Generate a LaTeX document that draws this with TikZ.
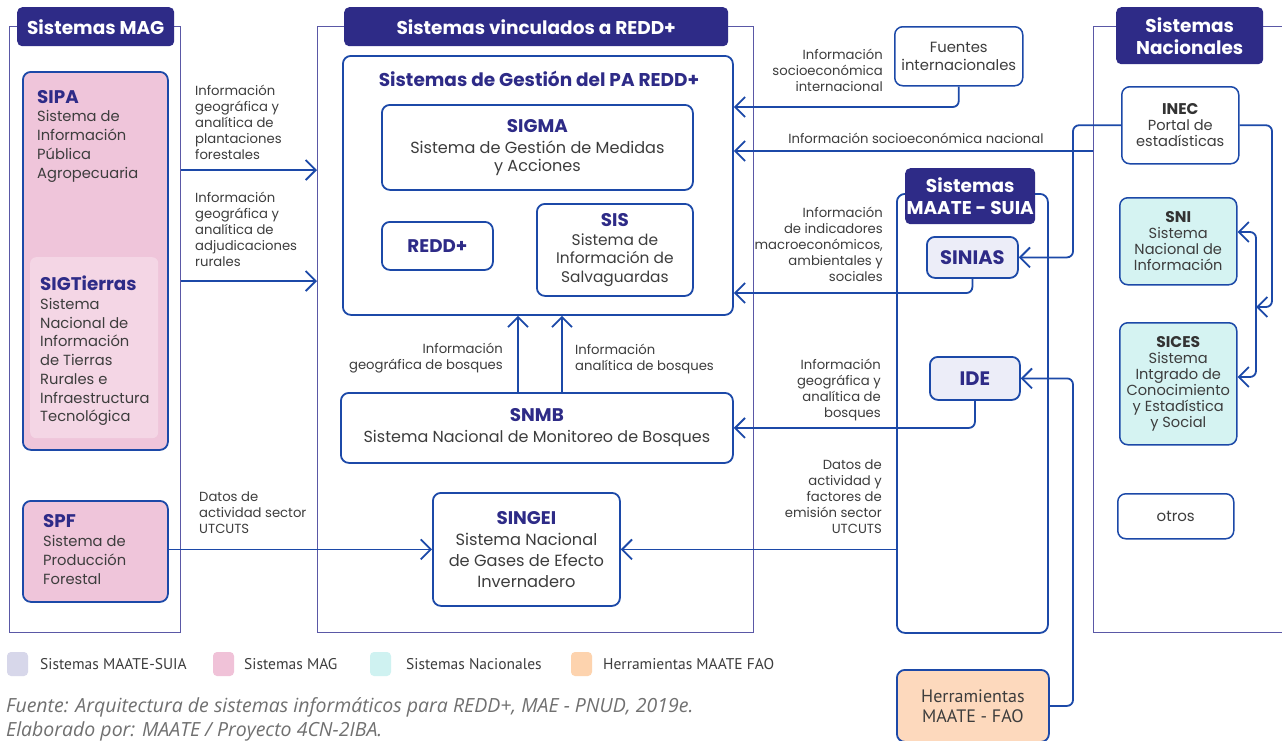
\documentclass[tikz,border=0pt]{standalone}
\usepackage{fontspec}
\setmainfont{Poppins}
\newfontfamily\legfont{PT Sans}
\newfontfamily\footfont{Open Sans}
\usetikzlibrary{arrows.meta,calc}
\definecolor{navy}{HTML}{2E2B87}
\definecolor{bluec}{HTML}{1C49A8}
\definecolor{contc}{HTML}{5A58A6}
\definecolor{txt}{HTML}{3D3D3D}
\definecolor{txtd}{HTML}{333333}
\definecolor{pinkA}{HTML}{EFC5DA}
\definecolor{pinkB}{HTML}{F4D6E5}
\definecolor{cyanA}{HTML}{D5F3F2}
\definecolor{lav}{HTML}{ECEDF8}
\definecolor{peach}{HTML}{FDD9BD}
\definecolor{lgA}{HTML}{D7D7EA}
\definecolor{lgB}{HTML}{F0C2D8}
\definecolor{lgC}{HTML}{CFF2F1}
\definecolor{lgD}{HTML}{FDD3AE}
\definecolor{foot}{HTML}{707070}
\newcommand\hdrf{\fontsize{18.5}{22}\selectfont\bfseries}
\newcommand\ttlf{\fontsize{18.3}{19}\selectfont\bfseries\color{navy}}
\newcommand\natt{\fontsize{15.5}{16}\selectfont\bfseries\color{txtd}}
\newcommand\lblf{\fontsize{13.2}{16}\selectfont}
\begin{document}
\begin{tikzpicture}[x=1pt,y=-1pt,
  cont/.style={draw=contc, line width=1.3pt, inner sep=0pt},
  hdr/.style={fill=navy, rounded corners=5pt, text=white, font=\hdrf, align=center, inner sep=0pt},
  box/.style={draw=bluec, line width=1.8pt, rounded corners=8pt, fill=white, align=center, inner sep=0pt, text=txt, font=\fontsize{16}{19}\selectfont},
  natbox/.style={box, line width=1.5pt, font=\fontsize{14.6}{16}\selectfont},
  mtxt/.style={anchor=north west, align=left, inner sep=0pt, text=txt, font=\fontsize{14.7}{18.7}\selectfont},
  conn/.style={draw=bluec, line width=1.8pt, rounded corners=6pt},
  arr/.style={-{Straight Barb[length=10pt,width=20pt]}},
  darr/.style={{Straight Barb[length=10pt,width=20pt]}-{Straight Barb[length=10pt,width=20pt]}},
  lbl/.style={font=\lblf, text=txt, inner sep=0pt},
  sw/.style={rounded corners=4pt, minimum width=21pt, minimum height=24pt, inner sep=0pt},
  legt/.style={anchor=west, inner sep=0pt, text=txt, font=\legfont\fontsize{15.5}{16}\selectfont},
  foott/.style={anchor=west, inner sep=0pt, text=foot, font=\footfont\fontsize{19.5}{22}\selectfont\itshape}
]
\useasboundingbox (0,0) rectangle (1282,740);
\fill[white] (0,0) rectangle (1282,740);

% containers
\node[cont, minimum width=171pt, minimum height=606pt, anchor=north west] (magC) at (9,26) {};
\node[cont, minimum width=436pt, minimum height=606pt, anchor=north west] (redC) at (317,26) {};
\node[cont, minimum width=230pt, minimum height=606pt, anchor=north west] (nacC) at (1093,26) {};
\node[draw=bluec, line width=1.8pt, rounded corners=8pt, inner sep=0pt, minimum width=151pt, minimum height=439pt, anchor=north west] (maateC) at (896,193) {};

% headers
\node[hdr, minimum width=157pt, minimum height=39pt, anchor=north west] (magH) at (17,7) {Sistemas MAG};
\node[hdr, minimum width=384pt, minimum height=39pt, anchor=north west] (redH) at (344,7) {Sistemas vinculados a REDD+};
\node[hdr, minimum width=147pt, minimum height=57pt, anchor=north west] (nacH) at (1116,7) {Sistemas\\Nacionales};
\node[hdr, minimum width=130pt, minimum height=56pt, anchor=north west] (maateH) at (905,168) {Sistemas\\MAATE - SUIA};

% MAG systems
\node[box, fill=pinkA, minimum width=145pt, minimum height=378pt, anchor=north west] (sipa) at (22,71) {};
\node[fill=pinkB, rounded corners=6pt, minimum width=128pt, minimum height=181pt, anchor=north west, inner sep=0pt] (sigt) at (30,257) {};
\node[mtxt] (sipaT) at (37,90) {{\ttlf SIPA}\\Sistema de\\Información\\Pública\\Agropecuaria};
\node[mtxt] (sigtT) at (40,276) {{\ttlf SIGTierras}\\Sistema\\Nacional de\\Información\\de Tierras\\Rurales e\\Infraestructura\\Tecnológica};
\node[box, fill=pinkA, minimum width=145pt, minimum height=101pt, anchor=north west] (spf) at (22,500) {};
\node[mtxt, font=\fontsize{14.7}{19.2}\selectfont] (spfT) at (43,514) {{\ttlf SPF}\\Sistema de\\Producción\\Forestal};

% REDD+ systems
\node[box, minimum width=390pt, minimum height=259pt, anchor=north west] (pa) at (342,55) {};
\node[inner sep=0pt, font=\fontsize{18.5}{19}\selectfont\bfseries, text=navy] (paT) at (539,79) {Sistemas de Gestión del PA REDD+};
\node[box, minimum width=311pt, minimum height=85pt, anchor=north west, font=\fontsize{16.1}{18}\selectfont] (sigma) at (381,104) {{\ttlf SIGMA}\\[3pt]Sistema de Gestión de Medidas\\y Acciones};
\node[box, minimum width=111pt, minimum height=48pt, anchor=north west] (redd) at (381,221) {\ttlf REDD+};
\node[box, minimum width=156pt, minimum height=92pt, anchor=north west, font=\fontsize{15.4}{18.5}\selectfont] (sis) at (536,203) {{\ttlf SIS}\\Sistema de\\Información de\\Salvaguardas};
\node[box, minimum width=392pt, minimum height=70pt, anchor=north west] (snmb) at (340,392) {{\ttlf SNMB}\\[2pt]Sistema Nacional de Monitoreo de Bosques};
\node[box, minimum width=187pt, minimum height=113pt, anchor=north west, font=\fontsize{16.2}{21}\selectfont] (singei) at (432,492) {{\ttlf SINGEI}\\Sistema Nacional\\de Gases de Efecto\\Invernadero};

% external and national
\node[natbox, minimum width=128pt, minimum height=59pt, anchor=north west, font=\fontsize{14.8}{18}\selectfont] (fuentes) at (894,26) {Fuentes\\internacionales};
\node[natbox, minimum width=117pt, minimum height=77pt, anchor=north west] (inec) at (1121,86) {{\natt INEC}\\Portal de\\estadísticas};
\node[natbox, fill=cyanA, minimum width=117pt, minimum height=87pt, anchor=north west] (sni) at (1119,197) {{\natt SNI}\\Sistema\\Nacional de\\Información};
\node[natbox, fill=cyanA, minimum width=117pt, minimum height=122pt, anchor=north west] (sices) at (1119,322) {{\natt SICES}\\Sistema\\Intgrado de\\Conocimiento\\y Estadística\\y Social};
\node[natbox, minimum width=116pt, minimum height=45pt, anchor=north west, font=\fontsize{15}{16}\selectfont] (otros) at (1117,493) {otros};

% MAATE
\node[box, fill=lav, minimum width=91pt, minimum height=41pt, anchor=north west] (sinias) at (926,236) {\ttlf\fontsize{19.5}{20}\selectfont SINIAS};
\node[box, fill=lav, minimum width=90pt, minimum height=43pt, anchor=north west] (ide) at (929,356) {\ttlf\fontsize{19.5}{20}\selectfont IDE};
\node[box, fill=peach, minimum width=152pt, minimum height=72pt, anchor=north west, font=\legfont\fontsize{18}{20}\selectfont] (herr) at (896,669) {Herramientas\\MAATE - FAO};

% helper coordinates
\coordinate (y107) at (0,107);
\coordinate (y151) at (0,151);
\coordinate (y170) at (0,170);
\coordinate (y281) at (0,281);
\coordinate (y293) at (0,293);
\coordinate (y232) at (0,232);
\coordinate (y307) at (0,307);
\coordinate (y377) at (0,377);
\coordinate (x518) at (518,0);
\coordinate (x562) at (562,0);
\coordinate (x1073) at (1073,0);
\coordinate (x1256) at (1256,0);
\coordinate (x1272) at (1272,0);

% connectors
\draw[conn, arr] (magC.east |- y170) -- (redC.west |- y170);
\draw[conn, arr] (magC.east |- y281) -- (redC.west |- y281);
\draw[conn, arr] (spf.east |- singei.west) -- (singei.west);
\draw[conn, arr] (maateC.west |- singei.east) -- (singei.east);
\draw[conn, arr] (fuentes.south) |- (pa.east |- y107);
\draw[conn, arr] (nacC.west |- y151) -- (pa.east |- y151);
\draw[conn, arr] (sinias.south) |- (pa.east |- y293);
\draw[conn, arr] (ide.south) |- (snmb.east);
\draw[conn, arr] (snmb.north -| x518) -- (pa.south -| x518);
\draw[conn, arr] (snmb.north -| x562) -- (pa.south -| x562);
\draw[conn, arr] (inec.west) -- (x1073 |- inec.west) -- (x1073 |- sinias.east) -- (sinias.east);
\draw[conn, arr] (inec.east) -- (x1272 |- inec.east) -- (x1272 |- y307) -- (x1256 |- y307);
\draw[conn, darr] (sni.east |- y232) -- (x1256 |- y232) -- (x1256 |- y377) -- (sices.east |- y377);
\draw[conn, arr] (herr.east) -- (x1073 |- herr.east) -- (x1073 |- ide.east) -- (ide.east);

% labels
\node[lbl, anchor=north west, align=left] (l1) at (195,85) {Información\\geográfica y\\analítica de\\plantaciones\\forestales};
\node[lbl, anchor=north west, align=left] (l2) at (195,192) {Información\\geográfica y\\analítica de\\adjudicaciones\\rurales};
\node[lbl, anchor=north west, align=left] (l3) at (199,492) {Datos de\\actividad sector\\UTCUTS};
\node[lbl, anchor=north east, align=right] (l4) at (883,49) {Información\\socioeconómica\\internacional};
\node[lbl, anchor=north] (l5) at (916,133) {Información socioeconómica nacional};
\node[lbl, anchor=north east, align=right] (l6) at (883,207) {Información\\de indicadores\\macroeconómicos,\\ambientales y\\sociales};
\node[lbl, anchor=north east, align=right] (l7) at (503,343) {Información\\geográfica de bosques};
\node[lbl, anchor=north west, align=left] (l8) at (575,344) {Información\\analítica de bosques};
\node[lbl, anchor=north east, align=right] (l9) at (881,359) {Información\\geográfica y\\analítica de\\bosques};
\node[lbl, anchor=north east, align=right] (l10) at (882,460) {Datos de\\actividad y\\factores de\\emisión sector\\UTCUTS};

% legend
\node[sw, fill=lgA] (sw1) at (17.5,664) {};
\node[legt] (lt1) at (40,664) {Sistemas MAATE-SUIA};
\node[sw, fill=lgB] (sw2) at (223.5,664) {};
\node[legt] (lt2) at (244,664) {Sistemas MAG};
\node[sw, fill=lgC] (sw3) at (380.5,664) {};
\node[legt] (lt3) at (406,664) {Sistemas Nacionales};
\node[sw, fill=lgD] (sw4) at (581.5,664) {};
\node[legt] (lt4) at (603,664) {Herramientas MAATE FAO};

% footer
\node[foott] (f1) at (6,707) {Fuente: Arquitectura de sistemas informáticos para REDD+, MAE - PNUD, 2019e.};
\node[foott] (f2) at (6,731) {Elaborado por: MAATE / Proyecto 4CN-2IBA.};
\end{tikzpicture}
\end{document}
